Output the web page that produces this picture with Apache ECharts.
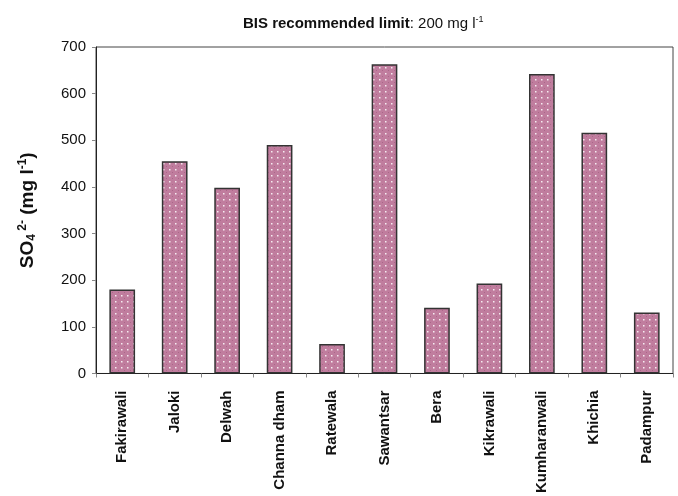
<!DOCTYPE html>
<html>
<head>
<meta charset="utf-8">
<script src="https://cdn.jsdelivr.net/npm/echarts@6/dist/echarts.min.js"></script>
<style>
  html, body { margin: 0; padding: 0; background: #fff; }
  #chart { width: 678px; height: 496px; }
</style>
</head>
<body>
<div id="chart"></div>
<script>
  const sites = ['Fakirawali', 'Jaloki', 'Delwah', 'Channa dham', 'Ratewala', 'Sawantsar',
                 'Bera', 'Kikrawali', 'Kumharanwali', 'Khichia', 'Padampur'];
  const sulphate = [180, 455, 398, 490, 63, 663, 141, 193, 642, 516, 131];
  const yTicks = [0, 100, 200, 300, 400, 500, 600, 700];

  // dotted fill like the original print
  function dotPattern() {
    const c = document.createElement('canvas');
    c.width = 6; c.height = 6;
    const ctx = c.getContext('2d');
    ctx.fillStyle = '#c07d9e';
    ctx.fillRect(0, 0, 6, 6);
    ctx.fillStyle = 'rgba(255,255,255,0.85)';
    ctx.fillRect(1, 1, 1.5, 1.5);
    ctx.fillStyle = 'rgba(150,80,115,0.5)';
    ctx.fillRect(4, 4, 1, 1);
    return c;
  }

  const chart = echarts.init(document.getElementById('chart'));
  const font = '"Liberation Sans", Arial, sans-serif';

  chart.setOption({
    animation: false,
    textStyle: { fontFamily: font },
    title: {
      left: 238,
      top: 10,
      text: '{b|BIS recommended limit}{n|: 200 mg l}{s|-1}',
      textStyle: {
        rich: {
          b: { fontWeight: 'bold', fontSize: 15, color: '#111', fontFamily: font },
          n: { fontWeight: 'normal', fontSize: 15, color: '#111', fontFamily: font },
          s: { fontWeight: 'normal', fontSize: 9, color: '#111', verticalAlign: 'top', padding: [0, 0, 9, 0], fontFamily: font }
        }
      }
    },
    grid: {
      left: 96, right: 5, top: 47, bottom: 122,
      show: true, borderColor: '#444', borderWidth: 1
    },
    xAxis: {
      type: 'category',
      data: sites,
      axisLine: { lineStyle: { color: '#222', width: 1 } },
      axisTick: { show: true, length: 4, lineStyle: { color: '#888' } },
      axisLabel: {
        rotate: 90, margin: 17, color: '#111',
        fontWeight: 'bold', fontSize: 15, fontFamily: font
      }
    },
    yAxis: {
      type: 'value',
      min: yTicks[0], max: yTicks[yTicks.length - 1], interval: 100,
      splitLine: { show: false },
      axisLine: { show: true, lineStyle: { color: '#222', width: 1 } },
      axisTick: { show: true, length: 4, lineStyle: { color: '#888' } },
      axisLabel: { color: '#111', fontSize: 15, margin: 10, fontFamily: font },
      name: '{m|SO}{sub|4}{sup| 2-}{m| (mg l}{sup|-1}{m|)}',
      nameLocation: 'middle',
      nameRotate: 90,
      nameGap: 58,
      nameTextStyle: {
        rich: {
          m: { fontWeight: 'bold', fontSize: 19, color: '#111', fontFamily: font },
          sub: { fontWeight: 'bold', fontSize: 12, color: '#111', verticalAlign: 'bottom', padding: [7, 0, 0, 0], fontFamily: font },
          sup: { fontWeight: 'bold', fontSize: 12, color: '#111', verticalAlign: 'top', padding: [0, 0, 9, 0], fontFamily: font }
        }
      }
    },
    series: [{
      type: 'bar',
      data: sulphate,
      barWidth: '49%',
      itemStyle: {
        color: { image: dotPattern(), repeat: 'repeat' },
        borderColor: '#333',
        borderWidth: 1.5
      }
    }]
  });
</script>
</body>
</html>
